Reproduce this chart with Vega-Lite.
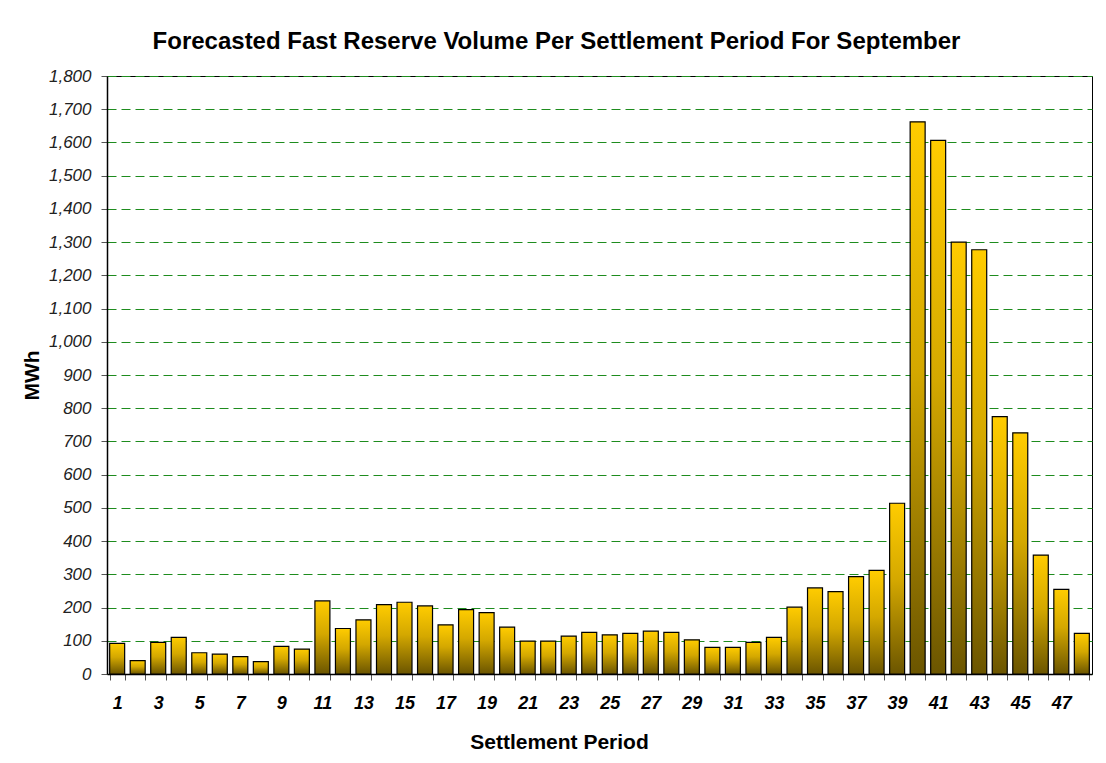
{
  "$schema": "https://vega.github.io/schema/vega-lite/v6.json",
  "autosize": {"type": "none"},
  "padding": {"left": 107, "top": 76, "right": 14, "bottom": 89},
  "width": 985,
  "height": 598,
  "background": "white",
  "title": {
    "text": "Forecasted Fast Reserve Volume Per Settlement Period For September",
    "font": "Liberation Sans",
    "fontSize": 24,
    "fontWeight": "bold",
    "color": "black",
    "anchor": "middle",
    "baseline": "alphabetic",
    "offset": 28,
    "dx": -43,
    "dy": 34
  },
  "data": {
    "values": [
      {"period": 1, "mwh": 92}, {"period": 2, "mwh": 40}, {"period": 3, "mwh": 95}, {"period": 4, "mwh": 110},
      {"period": 5, "mwh": 64}, {"period": 6, "mwh": 60}, {"period": 7, "mwh": 52}, {"period": 8, "mwh": 37},
      {"period": 9, "mwh": 83}, {"period": 10, "mwh": 75}, {"period": 11, "mwh": 220}, {"period": 12, "mwh": 137},
      {"period": 13, "mwh": 163}, {"period": 14, "mwh": 209}, {"period": 15, "mwh": 216}, {"period": 16, "mwh": 205},
      {"period": 17, "mwh": 148}, {"period": 18, "mwh": 194}, {"period": 19, "mwh": 185}, {"period": 20, "mwh": 141},
      {"period": 21, "mwh": 99}, {"period": 22, "mwh": 99}, {"period": 23, "mwh": 114}, {"period": 24, "mwh": 125},
      {"period": 25, "mwh": 118}, {"period": 26, "mwh": 122}, {"period": 27, "mwh": 129}, {"period": 28, "mwh": 125},
      {"period": 29, "mwh": 103}, {"period": 30, "mwh": 80}, {"period": 31, "mwh": 80}, {"period": 32, "mwh": 95},
      {"period": 33, "mwh": 110}, {"period": 34, "mwh": 201}, {"period": 35, "mwh": 259}, {"period": 36, "mwh": 248},
      {"period": 37, "mwh": 293}, {"period": 38, "mwh": 312}, {"period": 39, "mwh": 514}, {"period": 40, "mwh": 1662},
      {"period": 41, "mwh": 1606}, {"period": 42, "mwh": 1300}, {"period": 43, "mwh": 1277}, {"period": 44, "mwh": 775},
      {"period": 45, "mwh": 726}, {"period": 46, "mwh": 358}, {"period": 47, "mwh": 255}, {"period": 48, "mwh": 122}
    ]
  },
  "mark": {
    "type": "bar",
    "stroke": "black",
    "strokeWidth": 1.2,
    "fill": {
      "gradient": "linear",
      "x1": 0, "y1": 0, "x2": 0, "y2": 1,
      "stops": [
        {"offset": 0, "color": "#FFCC00"},
        {"offset": 0.45, "color": "#D4A800"},
        {"offset": 1, "color": "#6B5500"}
      ]
    }
  },
  "encoding": {
    "x": {
      "field": "period",
      "type": "ordinal",
      "scale": {"paddingInner": 0.27, "paddingOuter": 0.13},
      "axis": {
        "title": "Settlement Period",
        "titleFont": "Liberation Sans",
        "titleFontSize": 21,
        "titleFontWeight": "bold",
        "titleColor": "black",
        "titleX": 452,
        "titleY": 74,
        "titleAlign": "center",
        "titleBaseline": "alphabetic",
        "labelAngle": 0,
        "labelExpr": "datum.value % 2 == 1 ? datum.label : ''",
        "labelFont": "Liberation Sans",
        "labelFontSize": 18,
        "labelFontWeight": "bold",
        "labelFontStyle": "italic",
        "labelColor": "black",
        "labelPadding": 14,
        "tickBand": "extent",
        "tickSize": 6,
        "tickColor": "#555555",
        "domainColor": "black",
        "domainWidth": 1.5,
        "grid": false
      }
    },
    "y": {
      "field": "mwh",
      "type": "quantitative",
      "scale": {"domain": [0, 1800], "nice": false},
      "axis": {
        "title": "MWh",
        "titleFont": "Liberation Sans",
        "titleFontSize": 21,
        "titleFontWeight": "bold",
        "titleColor": "black",
        "titleX": -75,
        "titleY": 299,
        "titleAlign": "center",
        "titleBaseline": "middle",
        "values": [0, 100, 200, 300, 400, 500, 600, 700, 800, 900, 1000, 1100, 1200, 1300, 1400, 1500, 1600, 1700, 1800],
        "format": ",.0f",
        "labelFont": "Liberation Sans",
        "labelFontSize": 17,
        "labelFontStyle": "italic",
        "labelColor": "#222222",
        "labelPadding": 10,
        "tickSize": 6,
        "tickColor": "#555555",
        "domainColor": "black",
        "domainWidth": 1.5,
        "grid": true,
        "gridColor": "#1E8C1E",
        "gridDash": [9, 5],
        "gridWidth": 1
      }
    }
  },
  "config": {
    "view": {"stroke": "black", "strokeWidth": 1}
  }
}
